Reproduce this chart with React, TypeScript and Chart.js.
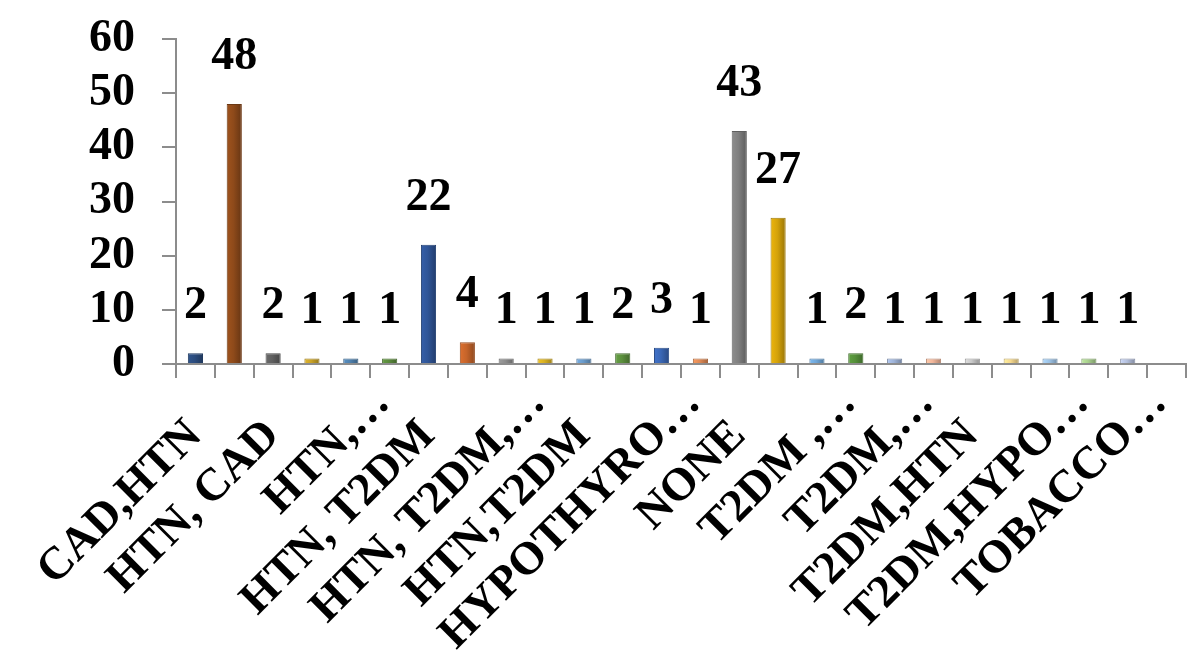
import React, { useEffect, useRef } from "react";
import { Chart, registerables } from "chart.js";

Chart.register(...registerables);

// Category tick labels (only every other one is printed in the source chart)
const categories: string[] = [
  "CAD,HTN", "",
  "HTN, CAD", "",
  "HTN,…", "",
  "HTN, T2DM", "",
  "HTN, T2DM,…", "",
  "HTN,T2DM", "",
  "HYPOTHYRO…", "",
  "NONE", "",
  "T2DM ,…", "",
  "T2DM,…", "",
  "T2DM,HTN", "",
  "T2DM,HYPO…", "",
  "TOBACCO…", "",
];

const values: (number | null)[] = [
  2, 48, 2, 1, 1, 1, 22, 4, 1, 1, 1, 2, 3, 1, 43, 27, 1, 2, 1, 1, 1, 1, 1, 1, 1, null,
];

const barColors: string[] = [
  "#2B4C7E", "#8E4A1A", "#5F5F5F", "#C9A227", "#4F81AE", "#5A8A3C",
  "#2F5597", "#C5642A", "#8C8C8C", "#D8B022", "#6A9BCB", "#5B8F3D",
  "#3A67B5", "#E08A55", "#7F7F7F", "#D4A20A", "#6FA6D8", "#55903A",
  "#9EB3D8", "#F2B69A", "#C9C9C9", "#F7D98E", "#9DC3E6", "#A9D08E",
  "#B4C0DD", "#B4C0DD",
];

const Y_MIN = 0;
const Y_MAX = 60;
const Y_STEP = 10;

const FONT = "'Liberation Serif', 'Times New Roman', serif";
const FONT_SIZE = 46;
const BAR_PCT = 0.39;
const X_LABEL_DX = 8;
const X_LABEL_DY = 73;

function shade(hex: string, f: number): string {
  const n = parseInt(hex.slice(1), 16);
  const r = Math.round(((n >> 16) & 255) * f);
  const g = Math.round(((n >> 8) & 255) * f);
  const b = Math.round((n & 255) * f);
  return `rgb(${Math.min(r, 255)},${Math.min(g, 255)},${Math.min(b, 255)})`;
}

const valueLabels = {
  id: "valueLabels",
  afterDatasetsDraw(chart: any) {
    const ctx = chart.ctx;
    const meta = chart.getDatasetMeta(0);
    ctx.save();
    ctx.fillStyle = "#000";
    ctx.font = `bold ${FONT_SIZE}px ${FONT}`;
    ctx.textAlign = "center";
    ctx.textBaseline = "middle";
    meta.data.forEach((el: any, i: number) => {
      const v = values[i];
      if (v === null || v === undefined) return;
      ctx.fillText(String(v), el.x, el.y - 47);
    });
    ctx.restore();
  },
};

// Excel-style rotated category labels: the end of the text (ellipsis excluded)
// is anchored just right of the category centre.
const xLabels = {
  id: "xLabels",
  afterDraw(chart: any) {
    const ctx = chart.ctx;
    const xs = chart.scales.x;
    ctx.save();
    ctx.fillStyle = "#000";
    ctx.font = `bold ${FONT_SIZE}px ${FONT}`;
    ctx.textBaseline = "alphabetic";
    ctx.textAlign = "left";
    categories.forEach((lab, i) => {
      if (!lab) return;
      const px = xs.getPixelForValue(i);
      const core = lab.endsWith("…") ? lab.slice(0, -1) : lab;
      const w = ctx.measureText(core).width;
      ctx.save();
      ctx.translate(px + X_LABEL_DX, xs.top + X_LABEL_DY);
      ctx.rotate(-Math.PI / 4);
      ctx.fillText(lab, -w, 0);
      ctx.restore();
    });
    ctx.restore();
  },
};

export default function App() {
  const ref = useRef<HTMLCanvasElement>(null);
  useEffect(() => {
    if (!ref.current) return;
    const chart = new Chart(ref.current, {
      type: "bar",
      data: {
        labels: categories,
        datasets: [
          {
            data: values,
            backgroundColor: (c: any) => {
              const base = barColors[c.dataIndex % barColors.length];
              const xs = c.chart.scales?.x;
              if (!xs || typeof xs.getPixelForValue !== "function") return base;
              const px = xs.getPixelForValue(c.dataIndex);
              const half = (xs.width / categories.length) * BAR_PCT / 2;
              if (!isFinite(px) || !isFinite(half) || half <= 0) return base;
              const g = c.chart.ctx.createLinearGradient(px - half, 0, px + half, 0);
              g.addColorStop(0, shade(base, 1.12));
              g.addColorStop(0.45, base);
              g.addColorStop(1, shade(base, 0.72));
              return g;
            },
            borderColor: barColors.map((c) => shade(c, 0.75)),
            borderWidth: 1,
            barPercentage: BAR_PCT,
            categoryPercentage: 1,
          },
        ],
      },
      options: {
        responsive: false,
        animation: false,
        layout: { padding: { top: 39, right: 14, left: 0, bottom: 0 } },
        plugins: {
          legend: { display: false },
          tooltip: { enabled: false },
        },
        scales: {
          x: {
            offset: true,
            grid: {
              offset: true,
              drawOnChartArea: false,
              drawTicks: true,
              tickLength: 14,
              color: "#8C8C8C",
              lineWidth: 2,
            },
            border: { color: "#8C8C8C", width: 2 },
            ticks: {
              display: false,
              autoSkip: false,
            },
            afterFit(scale: any) {
              scale.height = 296;
              scale.paddingLeft = 0;
              scale.paddingRight = 0;
            },
          },
          y: {
            min: Y_MIN,
            max: Y_MAX,
            grid: {
              drawOnChartArea: false,
              drawTicks: true,
              tickLength: 14,
              color: "#8C8C8C",
              lineWidth: 2,
            },
            border: { color: "#8C8C8C", width: 2 },
            ticks: {
              stepSize: Y_STEP,
              autoSkip: false,
              padding: 27,
              color: "#000",
              font: { family: FONT, size: FONT_SIZE, weight: "bold" },
            },
            afterFit(scale: any) {
              scale.width = 176;
              scale.paddingTop = 0;
              scale.paddingBottom = 0;
            },
          },
        },
      },
      plugins: [valueLabels, xLabels],
    });
    return () => chart.destroy();
  }, []);
  return (
    <div style={{ position: "absolute", left: 0, top: 0, width: 1200, height: 660, background: "#fff" }}>
      <canvas ref={ref} width={1200} height={660} />
    </div>
  );
}
